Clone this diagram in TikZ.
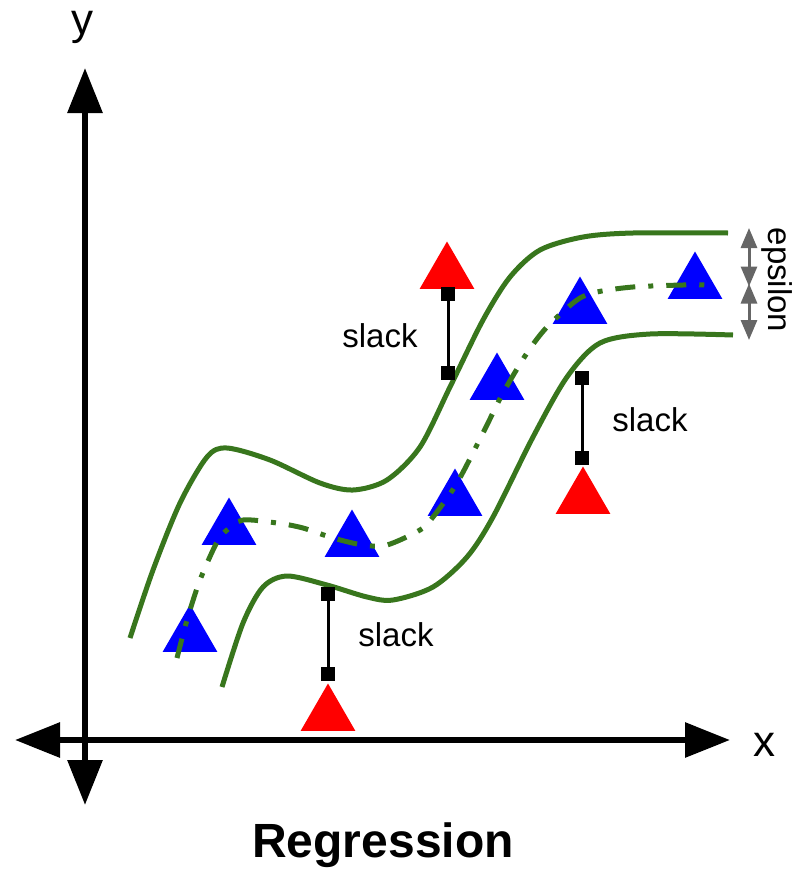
\documentclass[tikz,border=0pt]{standalone}
\usepackage{fontspec}
\setmainfont{Liberation Sans}
\usetikzlibrary{positioning,arrows.meta,shapes.geometric}

\definecolor{bandgreen}{HTML}{38761D}
\definecolor{epsgray}{HTML}{666666}

\begin{document}
\begin{tikzpicture}[
    x=1pt, y=-1pt,
    axis/.style={{Triangle[length=45pt,width=34pt]}-{Triangle[length=45pt,width=34pt]}, line width=6pt},
    epsarrow/.style={{Triangle[length=20pt,width=16pt]}-{Triangle[length=20pt,width=16pt]}, line width=3pt, epsgray},
    band/.style={line width=5pt, bandgreen},
    midline/.style={line width=5pt, bandgreen, dash pattern=on 20pt off 13pt on 5pt off 13pt},
    tri/.style={regular polygon, regular polygon sides=3, minimum size=63pt, inner sep=0pt, draw=none},
    sq/.style={fill=black, minimum size=14pt, inner sep=0pt},
    slackbar/.style={line width=3pt},
    lbl/.style={font=\fontsize{33}{40}\selectfont, anchor=base},
    axlbl/.style={font=\fontsize{44}{50}\selectfont, inner sep=0pt}
]
\useasboundingbox (0,0) rectangle (800,870);

% ===== Axes =====
\coordinate (yneg) at (85,805);
\coordinate (ypos) at (85,68);
\coordinate (xneg) at (15,740);
\coordinate (xpos) at (730,740);
\draw[axis] (yneg) -- (ypos);
\draw[axis] (xneg) -- (xpos);
\node[axlbl] (ylabel) at (82,27) {y};
\node[axlbl] (xlabel) at (764,745) {x};

% ===== Data points =====
\foreach \name/\px/\py in {b1/190/636, b2/229/529, b3/352/541, b4/455/500, b5/497/384, b6/580/308, b7/695/283}
    \node[tri, fill=blue] (\name) at (\px,\py) {};
\foreach \name/\px/\py in {r1/447/273, r2/583/498, r3/328/715}
    \node[tri, fill=red] (\name) at (\px,\py) {};

% ===== Epsilon tube =====
\draw[band] plot[smooth] coordinates {(130,638) (153,570) (180,503) (207,457) (227,448) (270,460) (320,483) (353,490) (387,480) (420,447) (450,387) (483,320) (510,277) (540,250) (583,237) (633,233) (728,233)};
\draw[band] plot[smooth] coordinates {(222,687) (243,623) (263,587) (287,576) (327,585) (367,597) (393,600) (433,587) (467,557) (493,517) (533,437) (567,377) (600,343) (650,334) (733,335)};
\draw[midline] plot[smooth] coordinates {(177,658) (187,620) (200,580) (217,542) (227,530) (243,520) (277,523) (303,528) (333,538) (363,545) (387,545) (420,530) (433,517) (457,483) (483,433) (503,393) (527,353) (547,327) (577,300) (597,292) (633,287) (683,285) (717,285)};

% ===== Slack bars =====
\node[sq] (s1top) at (448,294) {};
\node[sq] (s1bot) at (448,373) {};
\node[sq] (s2top) at (582,378) {};
\node[sq] (s2bot) at (582,458) {};
\node[sq] (s3top) at (328,594) {};
\node[sq] (s3bot) at (328,674) {};
\draw[slackbar] (s1top) -- (s1bot);
\draw[slackbar] (s2top) -- (s2bot);
\draw[slackbar] (s3top) -- (s3bot);
\node[lbl] (slack1) at (380,347) {slack};
\node[lbl] (slack2) at (650,431) {slack};
\node[lbl] (slack3) at (396,646) {slack};

% ===== Epsilon marker =====
\coordinate (epstop) at (749,228);
\coordinate (epsmid) at (749,285);
\coordinate (epsbot) at (749,340);
\draw[epsarrow] (epstop) -- ([yshift=-1.5pt]epsmid);
\draw[epsarrow] ([yshift=1.5pt]epsmid) -- (epsbot);
\node[font=\fontsize{33}{40}\selectfont, rotate=-90] (epslabel) at (777,280) {epsilon};

% ===== Title =====
\node[font=\bfseries\fontsize{48}{56}\selectfont] (title) at (383,845) {Regression};

\end{tikzpicture}
\end{document}
